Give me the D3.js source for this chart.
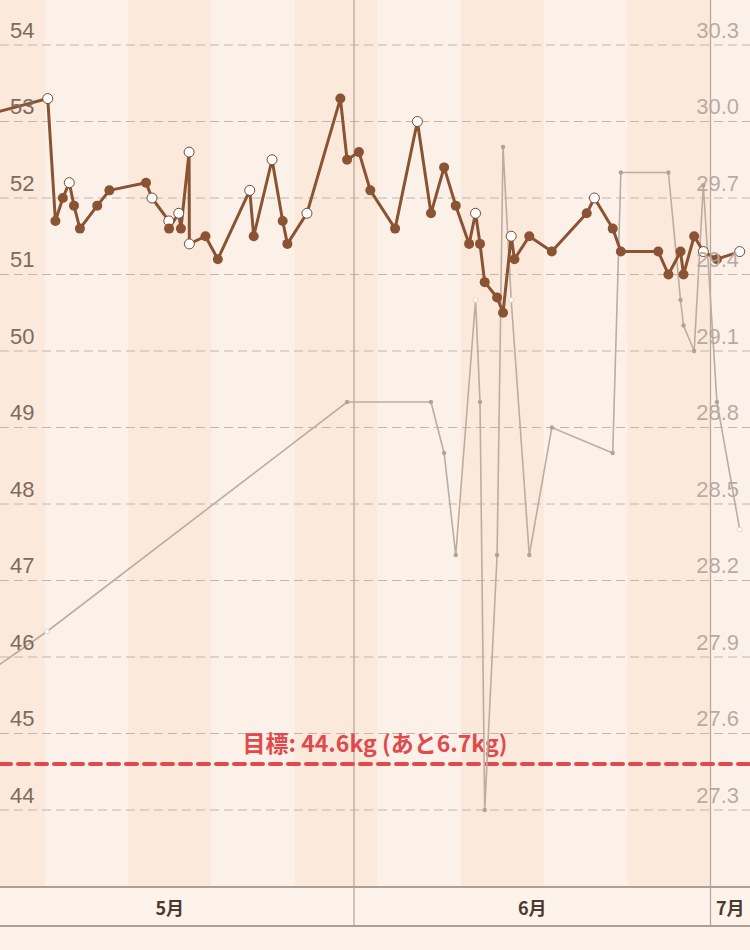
<!DOCTYPE html>
<html>
<head>
<meta charset="utf-8">
<script src="https://cdn.jsdelivr.net/npm/d3@7"></script>
<style>
  body { margin: 0; background: #fcf1e8; }
  svg { display: block; }
</style>
</head>
<body>
<div id="chart"></div>
<script>
// weight (kg), left axis
const weightTimes = ["2019-04-29 00:00", "2019-05-06 05:30", "2019-05-06 21:00", "2019-05-07 12:00", "2019-05-08 01:00",
  "2019-05-08 10:30", "2019-05-08 22:30", "2019-05-10 09:30", "2019-05-11 10:00", "2019-05-14 12:00",
  "2019-05-15 00:00", "2019-05-16 10:00", "2019-05-16 10:30", "2019-05-17 06:00", "2019-05-17 10:30",
  "2019-05-18 03:00", "2019-05-18 03:30", "2019-05-19 12:00", "2019-05-20 13:00", "2019-05-23 05:30",
  "2019-05-23 13:30", "2019-05-25 02:30", "2019-05-26 00:00", "2019-05-26 09:30", "2019-05-28 01:00",
  "2019-05-30 20:30", "2019-05-31 10:00", "2019-06-01 10:00", "2019-06-02 09:00", "2019-06-04 11:00",
  "2019-06-06 08:00", "2019-06-07 11:30", "2019-06-08 14:00", "2019-06-09 13:30", "2019-06-10 16:30",
  "2019-06-11 05:30", "2019-06-11 14:30", "2019-06-12 00:00", "2019-06-13 01:00", "2019-06-13 13:00",
  "2019-06-14 05:30", "2019-06-14 12:00", "2019-06-15 18:00", "2019-06-17 15:30", "2019-06-20 14:00",
  "2019-06-21 05:30", "2019-06-22 18:30", "2019-06-23 11:00", "2019-06-26 14:30", "2019-06-27 11:00",
  "2019-06-28 11:30", "2019-06-28 17:30", "2019-06-29 15:00", "2019-06-30 09:30", "2019-07-01 13:00",
  "2019-07-03 11:00"];
const weightValues = [53.0, 53.3, 51.7, 52.0, 52.2,
  51.9, 51.6, 51.9, 52.1, 52.2,
  52.0, 51.7, 51.6, 51.8, 51.6,
  52.6, 51.4, 51.5, 51.2, 52.1,
  51.5, 52.5, 51.7, 51.4, 51.8,
  53.3, 52.5, 52.6, 52.1, 51.6,
  53.0, 51.8, 52.4, 51.9, 51.4,
  51.8, 51.4, 50.9, 50.7, 50.5,
  51.5, 51.2, 51.5, 51.3, 51.8,
  52.0, 51.6, 51.3, 51.3, 51.0,
  51.3, 51.0, 51.5, 51.3, 51.2,
  51.3];
// "w" = open marker, "b" = filled marker
const weightKinds = ["b", "w", "b", "b", "w",
  "b", "b", "b", "b", "b",
  "w", "w", "b", "w", "b",
  "w", "w", "b", "b", "w",
  "b", "w", "b", "b", "w",
  "b", "b", "b", "b", "b",
  "w", "b", "b", "b", "b",
  "w", "b", "b", "b", "b",
  "w", "b", "b", "b", "b",
  "w", "b", "b", "b", "b",
  "b", "b", "b", "w", "b",
  "w"];

// grey series, right axis
const bmiTimes = ["2019-04-30 00:00", "2019-05-06 04:00", "2019-05-31 10:00", "2019-06-07 11:30", "2019-06-08 14:00",
  "2019-06-09 13:30", "2019-06-11 05:30", "2019-06-11 14:30", "2019-06-12 00:00", "2019-06-13 01:00",
  "2019-06-13 13:00", "2019-06-14 05:30", "2019-06-15 18:00", "2019-06-17 15:30", "2019-06-22 18:30",
  "2019-06-23 11:00", "2019-06-27 11:00", "2019-06-28 11:30", "2019-06-28 17:30", "2019-06-29 15:00",
  "2019-06-30 09:30", "2019-07-01 13:00", "2019-07-03 11:00"];
const bmiValues = [27.8, 28.0, 28.9, 28.9, 28.7,
  28.3, 29.3, 28.9, 27.3, 28.3,
  29.9, 29.3, 28.3, 28.8, 28.7,
  29.8, 29.8, 29.3, 29.2, 29.1,
  29.75, 28.9, 28.4];
const bmiKinds = ["b", "w", "b", "b", "b",
  "b", "w", "b", "b", "b",
  "b", "w", "b", "b", "b",
  "b", "b", "b", "b", "b",
  "b", "b", "w"];

const leftTicks = [44, 45, 46, 47, 48, 49, 50, 51, 52, 53, 54];
const rightTicks = [27.3, 27.6, 27.9, 28.2, 28.5, 28.8, 29.1, 29.4, 29.7, 30.0, 30.3];
const months = ["2019-05-01", "2019-06-01", "2019-07-01"];
const monthLabels = ["5月", "6月", "7月"];
const goal = 44.6;
const goalLabel = "目標: 44.6kg (あと6.7kg)";

const W = 750, H = 950, plotBottom = 887, axisBottom = 926;
const parseTime = d3.timeParse("%Y-%m-%d %H:%M");
const parseDay = d3.timeParse("%Y-%m-%d");

const x = d3.scaleTime()
  .domain([parseDay("2019-05-01"), parseDay("2019-07-01")])
  .range([-14.4, 710.5]);
const y = d3.scaleLinear().domain([44, 54]).range([810, 45]);
const yR = d3.scaleLinear().domain([27.3, 30.3]).range([810, 45]);

const weight = weightTimes.map((t, i) => ({ t: parseTime(t), v: weightValues[i], k: weightKinds[i] }));
const bmi = bmiTimes.map((t, i) => ({ t: parseTime(t), v: bmiValues[i], k: bmiKinds[i] }));

const svg = d3.select("#chart")
  .append("svg")
  .attr("width", W)
  .attr("height", H);

svg.append("rect").attr("width", W).attr("height", H).attr("fill", "#fcf1e8");
svg.append("rect").attr("y", plotBottom).attr("width", W).attr("height", axisBottom - plotBottom).attr("fill", "#fdf3ea");

// week bands
const weeks = d3.timeMonday.range(parseDay("2019-04-29"), parseDay("2019-07-15"));
svg.append("g")
  .selectAll("rect")
  .data(weeks)
  .enter().append("rect")
  .attr("x", d => Math.max(0, x(d)))
  .attr("y", 0)
  .attr("width", d => Math.max(0, Math.min(W, x(d3.timeDay.offset(d, 7))) - Math.max(0, x(d))))
  .attr("height", plotBottom)
  .attr("fill", (d, i) => i % 2 === 0 ? "#fbe9dc" : "#fcf1e8");

// dashed grid
svg.append("g")
  .selectAll("line")
  .data(leftTicks)
  .enter().append("line")
  .attr("x1", 0)
  .attr("x2", W)
  .attr("y1", d => y(d))
  .attr("y2", d => y(d))
  .attr("stroke", "#c4b4a9")
  .attr("stroke-width", 1)
  .attr("stroke-dasharray", "9,5");

// month boundary lines
svg.append("g")
  .selectAll("line")
  .data(months.slice(1))
  .enter().append("line")
  .attr("x1", d => x(parseDay(d)))
  .attr("x2", d => x(parseDay(d)))
  .attr("y1", 0)
  .attr("y2", axisBottom)
  .attr("stroke", "#b8a99f")
  .attr("stroke-width", 1.3);

// bottom axis band
svg.append("line")
  .attr("x1", 0).attr("x2", W)
  .attr("y1", plotBottom).attr("y2", plotBottom)
  .attr("stroke", "#ada095").attr("stroke-width", 2);
svg.append("line")
  .attr("x1", 0).attr("x2", W)
  .attr("y1", axisBottom).attr("y2", axisBottom)
  .attr("stroke", "#ada095").attr("stroke-width", 2);

svg.append("g")
  .selectAll("text")
  .data(months)
  .enter().append("text")
  .attr("x", (d, i) => {
    const start = parseDay(d);
    const end = d3.timeMonth.offset(start, 1);
    return (x(start) + Math.min(W, x(end))) / 2;
  })
  .attr("y", 915)
  .attr("text-anchor", "middle")
  .attr("font-family", "'Noto Sans CJK JP', sans-serif")
  .attr("font-size", 18)
  .attr("font-weight", 700)
  .attr("fill", "#4a3a30")
  .text((d, i) => monthLabels[i]);

// goal line
svg.append("line")
  .attr("x1", 0).attr("x2", W)
  .attr("y1", y(goal)).attr("y2", y(goal))
  .attr("stroke", "#e04a4e")
  .attr("stroke-width", 4)
  .attr("stroke-linecap", "round")
  .attr("stroke-dasharray", "11,7");
svg.append("text")
  .attr("x", W / 2)
  .attr("y", y(goal) - 12)
  .attr("text-anchor", "middle")
  .attr("font-family", "'Noto Sans CJK JP', sans-serif")
  .attr("font-size", 23)
  .attr("font-weight", 700)
  .attr("fill", "#e04a4e")
  .text(goalLabel);

// grey series
svg.append("path")
  .datum(bmi)
  .attr("fill", "none")
  .attr("stroke", "#bcaca2")
  .attr("stroke-width", 1.6)
  .attr("d", d3.line().x(d => x(d.t)).y(d => yR(d.v)));
svg.append("g")
  .selectAll("circle")
  .data(bmi)
  .enter().append("circle")
  .attr("cx", d => x(d.t))
  .attr("cy", d => yR(d.v))
  .attr("r", d => d.k === "w" ? 2.4 : 2.2)
  .attr("fill", d => d.k === "w" ? "#ffffff" : "#b3a397")
  .attr("stroke", d => d.k === "w" ? "#d8ccc4" : "none")
  .attr("stroke-width", 0.8);

// weight series
svg.append("path")
  .datum(weight)
  .attr("fill", "none")
  .attr("stroke", "#8a5333")
  .attr("stroke-width", 3)
  .attr("stroke-linejoin", "round")
  .attr("d", d3.line().x(d => x(d.t)).y(d => y(d.v)));
svg.append("g")
  .selectAll("circle")
  .data(weight)
  .enter().append("circle")
  .attr("cx", d => x(d.t))
  .attr("cy", d => y(d.v))
  .attr("r", 5)
  .attr("fill", d => d.k === "w" ? "#ffffff" : "#8a5333")
  .attr("stroke", d => d.k === "w" ? "#7a4a2e" : "none")
  .attr("stroke-width", 1);

// axis labels
const leftAxis = d3.axisRight(y).tickValues(leftTicks).tickSize(0).tickPadding(0);
svg.append("g")
  .attr("transform", "translate(10,0)")
  .call(leftAxis)
  .call(g => g.select(".domain").remove())
  .call(g => g.selectAll("text")
    .attr("dy", -8)
    .attr("fill", "#816a5b")
    .attr("font-family", "'Liberation Sans', sans-serif")
    .attr("font-size", 22));

const rightAxis = d3.axisLeft(yR).tickValues(rightTicks).tickFormat(d3.format(".1f")).tickSize(0).tickPadding(0);
svg.append("g")
  .attr("transform", "translate(739,0)")
  .call(rightAxis)
  .call(g => g.select(".domain").remove())
  .call(g => g.selectAll("text")
    .attr("dy", -8)
    .attr("fill", "#b5a69c")
    .attr("fill-opacity", 0.95)
    .attr("font-family", "'Liberation Sans', sans-serif")
    .attr("font-size", 22));
</script>
</body>
</html>
